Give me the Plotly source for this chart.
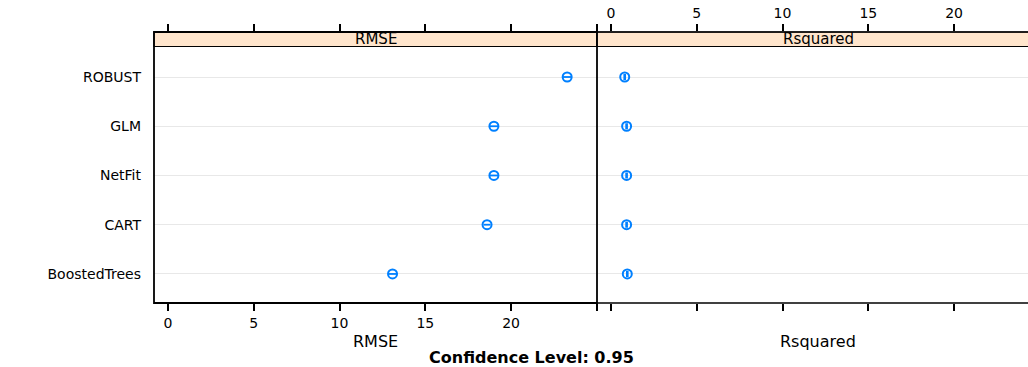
import plotly.graph_objects as go

# ---- data ----
models = ["BoostedTrees", "CART", "NetFit", "GLM", "ROBUST"]
rmse = [13.09, 18.60, 19.00, 19.00, 23.27]
rmse_ci = [0.25, 0.20, 0.25, 0.25, 0.28]
rsq = [0.95, 0.91, 0.91, 0.91, 0.80]
rsq_ci = [0.03, 0.03, 0.03, 0.03, 0.03]
metrics = ["RMSE", "Rsquared"]
tick_vals = [0, 5, 10, 15, 20, 25]
tick_text = ["0", "5", "10", "15", "20", ""]
confidence_text = "Confidence Level: 0.95"

W, H = 1028, 367
BLUE = "#0080ff"
FONT = "DejaVu Sans, Liberation Sans, Arial, sans-serif"

# layout geometry (pixels)
left_x0, mid_x, right_x1 = 154, 597, 1028
panel_bottom, axis_top, strip_bottom = 303, 32, 46.5

def px_x(p):
    return p / W

def px_y(p):
    return 1 - p / H

xr_left = [-0.816, 25.01]
xr_right = [-0.816, 24.31]
yr = [-0.59, 4.914]

fig = go.Figure()

fig.add_trace(go.Scatter(
    x=rmse, y=models, mode="markers", xaxis="x", yaxis="y",
    marker=dict(symbol="circle-open", size=9, color=BLUE, line=dict(width=2, color=BLUE)),
    error_x=dict(type="data", array=rmse_ci, color=BLUE, thickness=1.8, width=0),
    showlegend=False, hoverinfo="x+y"))
fig.add_trace(go.Scatter(
    x=rsq, y=models, mode="markers", xaxis="x2", yaxis="y2",
    marker=dict(symbol="circle-open", size=9, color=BLUE, line=dict(width=2, color=BLUE)),
    error_x=dict(type="data", array=rsq_ci, color=BLUE, thickness=1.6, width=3),
    showlegend=False, hoverinfo="x+y"))
# invisible traces to anchor top axes
fig.add_trace(go.Scatter(x=[rmse[0]], y=[models[0]], xaxis="x3", yaxis="y", mode="markers",
                         marker=dict(opacity=0), showlegend=False, hoverinfo="skip"))
fig.add_trace(go.Scatter(x=[rsq[0]], y=[models[0]], xaxis="x4", yaxis="y2", mode="markers",
                         marker=dict(opacity=0), showlegend=False, hoverinfo="skip"))

tickfont = dict(family=FONT, size=14, color="black")
common_x = dict(tickvals=tick_vals, ticktext=tick_text, ticks="outside", ticklen=7,
                tickwidth=1.6, tickcolor="black", showgrid=False, zeroline=False,
                showline=False, tickfont=tickfont)

ydom = [px_y(panel_bottom), px_y(axis_top)]
fig.update_layout(
    width=W, height=H, margin=dict(l=0, r=0, t=0, b=0),
    paper_bgcolor="white", plot_bgcolor="white",
    xaxis=dict(domain=[px_x(left_x0), px_x(mid_x)], range=xr_left, anchor="y", side="bottom",
               showticklabels=True, **common_x),
    xaxis2=dict(domain=[px_x(mid_x), 1], range=xr_right, anchor="y2", side="bottom",
                showticklabels=False, **common_x),
    xaxis3=dict(overlaying="x", range=xr_left, anchor="y", side="top",
                showticklabels=False, **common_x),
    xaxis4=dict(overlaying="x2", range=xr_right, anchor="y2", side="top",
                showticklabels=True, **common_x),
    yaxis=dict(domain=ydom, range=yr, type="category", categoryarray=models,
               categoryorder="array", anchor="x", ticks="", showline=False, zeroline=False,
               showgrid=True, gridcolor="#e8e8e8", gridwidth=1, tickfont=tickfont,
               ticklabelstandoff=12),
    yaxis2=dict(domain=ydom, range=yr, type="category", categoryarray=models,
                categoryorder="array", anchor="x2", matches="y", ticks="", showline=False,
                zeroline=False, showgrid=True, gridcolor="#e8e8e8", gridwidth=1,
                showticklabels=False),
)

strip_y0 = (strip_bottom - axis_top) / (panel_bottom - axis_top)
strip_frac = 1 - strip_y0
shapes = []
for xd in ["x domain", "x2 domain"]:
    shapes.append(dict(type="rect", xref=xd, yref="y domain", x0=0, x1=1.02 if xd == "x2 domain" else 1,
                       y0=strip_frac, y1=1, fillcolor="#ffe5cc",
                       line=dict(color="black", width=1.2), layer="below"))
# panel frame
shapes.append(dict(type="rect", xref="x domain", yref="y domain", x0=0, x1=1, y0=0, y1=1,
                   line=dict(color="black", width=1.8), layer="above"))
shapes.append(dict(type="line", xref="x2 domain", yref="y domain", x0=0, x1=1, y0=0, y1=0,
                   line=dict(color="black", width=1.6), layer="above"))
shapes.append(dict(type="line", xref="x2 domain", yref="y domain", x0=0, x1=1, y0=1, y1=1,
                   line=dict(color="black", width=1.6), layer="above"))
fig.update_layout(shapes=shapes)

strip_center_y = px_y((axis_top + strip_bottom) / 2 - 0.5)
big = dict(family=FONT, size=16, color="black")
strip_font = dict(family=FONT, size=15, color="black")
ann = []
ann.append(dict(text=metrics[0], x=px_x((left_x0 + mid_x) / 2), y=strip_center_y, xref="paper",
                yref="paper", showarrow=False, font=strip_font, xanchor="center", yanchor="middle"))
ann.append(dict(text=metrics[1], x=px_x(818), y=strip_center_y, xref="paper",
                yref="paper", showarrow=False, font=strip_font, xanchor="center", yanchor="middle"))
ann.append(dict(text=metrics[0], x=px_x((left_x0 + mid_x) / 2), y=px_y(341), xref="paper",
                yref="paper", showarrow=False, font=big, xanchor="center", yanchor="middle"))
ann.append(dict(text=metrics[1], x=px_x(818), y=px_y(341), xref="paper",
                yref="paper", showarrow=False, font=big, xanchor="center", yanchor="middle"))
ann.append(dict(text="<b>" + confidence_text + "</b>", x=px_x(531), y=px_y(357), xref="paper",
                yref="paper", showarrow=False, font=big, xanchor="center", yanchor="middle"))
fig.update_layout(annotations=ann)

fig.write_html("out.html")
